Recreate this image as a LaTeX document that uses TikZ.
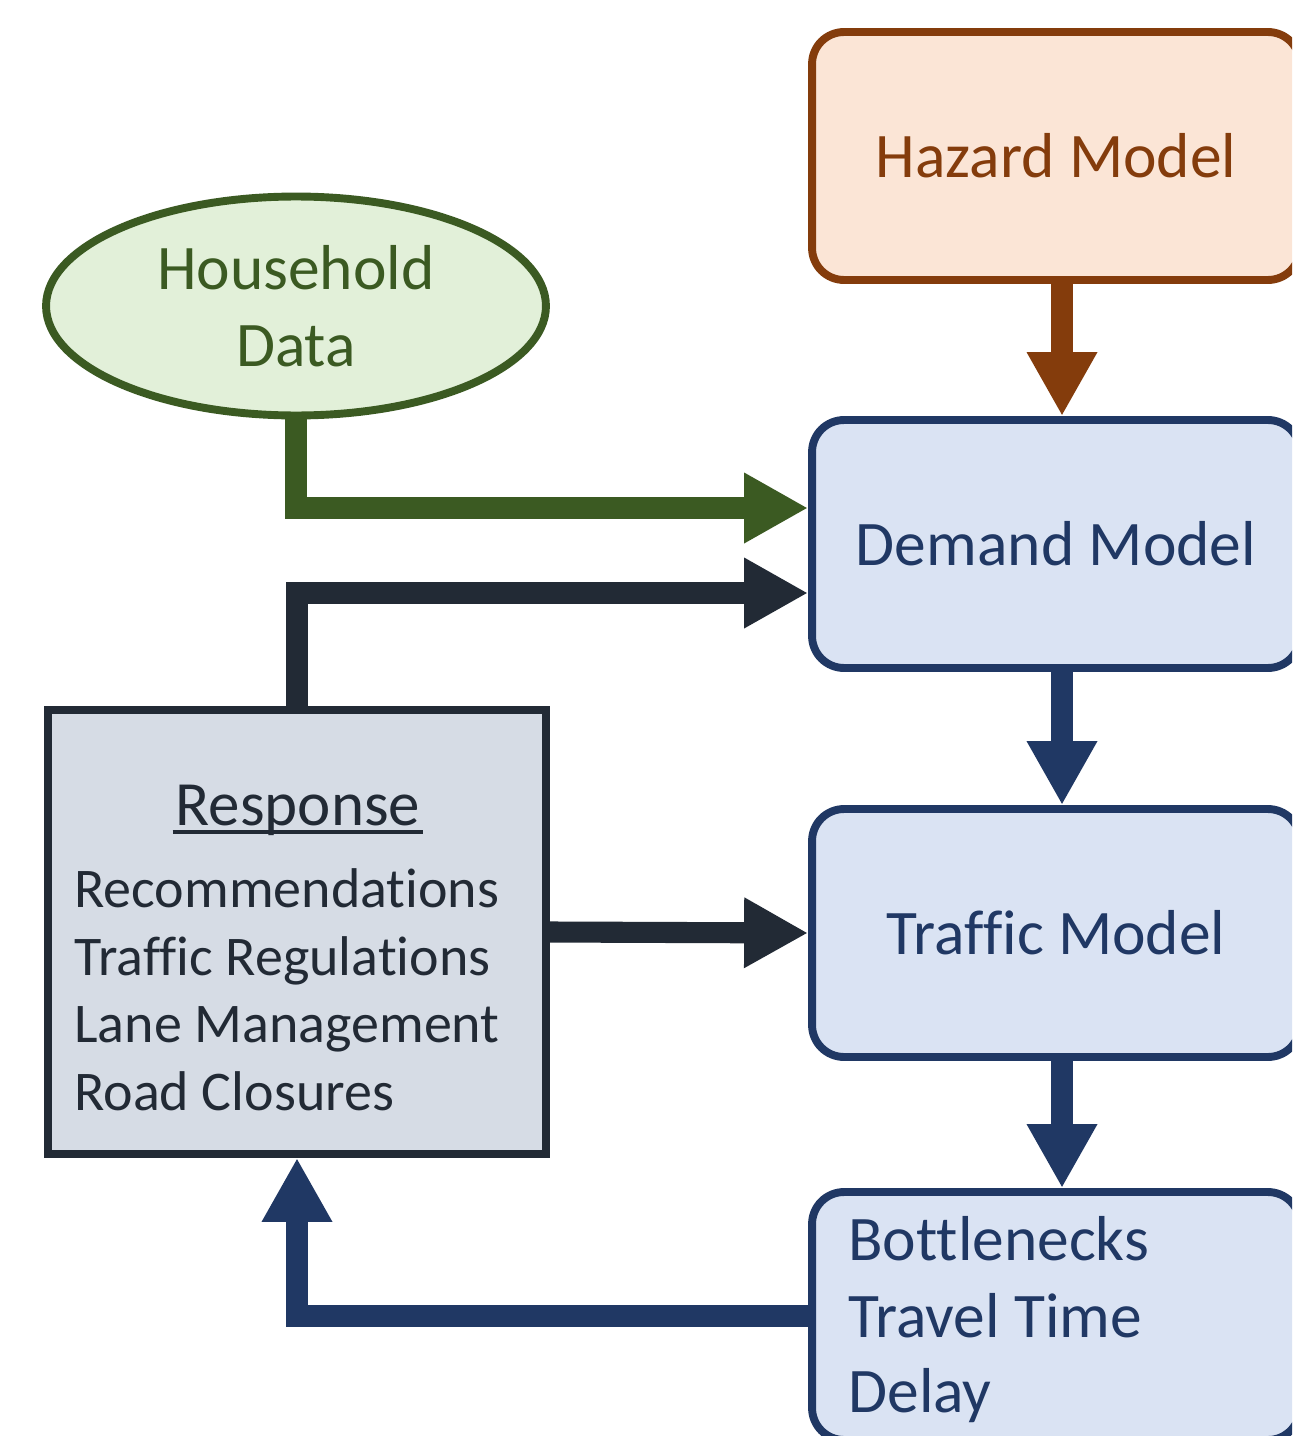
\documentclass[tikz,border=0pt]{standalone}
\usepackage{fontspec}
\setmainfont{Carlito}[Ligatures={NoCommon}]
\usetikzlibrary{arrows.meta,shapes.geometric,calc}
\definecolor{hazfill}{HTML}{FBE5D6}
\definecolor{hazline}{HTML}{843C0C}
\definecolor{blufill}{HTML}{DAE3F3}
\definecolor{bluline}{HTML}{203864}
\definecolor{grnfill}{HTML}{E2F0D9}
\definecolor{grnline}{HTML}{3B5A22}
\definecolor{resfill}{HTML}{D6DCE5}
\definecolor{resline}{HTML}{222A35}
\newcommand\myul[1]{\setbox0\hbox{#1}\rlap{\hspace*{-0.05em}\rule[-0.14em]{\dimexpr\wd0+0.1em\relax}{0.055em}}\box0}
\begin{document}
\begin{tikzpicture}[x=0.02cm,y=-0.02cm,
  modelbox/.style={draw, rounded corners=0.64cm, line width=4.5pt, minimum width=9.76cm, minimum height=4.96cm, inner sep=0pt},
  conn/.style={line width=12pt, -{Triangle[length=1.28cm,width=1.32cm]}},
  bigtext/.style={font=\fontsize{1.27cm}{1.54cm}\selectfont},
  listtext/.style={font=\fontsize{1.12cm}{1.36cm}\selectfont, text=resline, inner sep=0pt},
  ]
\clip (0,0) rectangle (1292,1436);
\fill[white] (0,0) rectangle (1292,1436);
% boxes
\node[modelbox, fill=hazfill, draw=hazline, text=hazline, bigtext] (hazard) at (1056,156) {Hazard Model};
\node[modelbox, fill=blufill, draw=bluline, text=bluline, bigtext] (demand) at (1056,544) {Demand Model};
\node[modelbox, fill=blufill, draw=bluline, text=bluline, bigtext] (traffic) at (1056,933) {Traffic Model};
\node[modelbox, fill=blufill, draw=bluline] (bottle) at (1056,1316) {};
\node[bigtext, text=bluline, anchor=base west, inner sep=0pt] (b1) at (848,1260) {Bottlenecks};
\node[bigtext, text=bluline, anchor=base west, inner sep=0pt] (b2) at (848,1337) {Travel Time};
\node[bigtext, text=bluline, anchor=base west, inner sep=0pt] (b3) at (848,1412) {Delay};
\node[ellipse, draw=grnline, fill=grnfill, line width=4.5pt, minimum width=10cm, minimum height=4.38cm, inner sep=0pt, text=grnline, align=center, bigtext] (house) at (296,306) {Household\\Data};
\node[rectangle, draw=resline, fill=resfill, line width=4.5pt, minimum width=9.96cm, minimum height=8.88cm, inner sep=0pt] (resp) at (297,932) {};
\node[font=\fontsize{1.26cm}{1.5cm}\selectfont, text=resline, anchor=base, inner sep=0pt] (rtitle) at (298,825) {\myul{Response}};
\node[listtext, anchor=base west] (r1) at (74,907) {Recommendations};
\node[listtext, anchor=base west] (r2) at (74,975) {Traffic Regulations};
\node[listtext, anchor=base west] (r3) at (74,1042) {Lane Management};
\node[listtext, anchor=base west] (r4) at (74,1110) {Road Closures};
% connectors
\draw[conn, draw=hazline] ($(hazard.south)+(6,0)$) -- ($(demand.north)+(6,0)$);
\draw[conn, draw=bluline] ($(demand.south)+(6,0)$) -- ($(traffic.north)+(6,0)$);
\draw[conn, draw=bluline] ($(traffic.south)+(6,0)$) -- ($(bottle.north)+(6,0)$);
\draw[conn, draw=grnline] (house.south) |- ($(demand.west)+(0,-36)$);
\draw[conn, draw=resline] (resp.north) |- ($(demand.west)+(0,49)$);
\draw[conn, draw=resline] (resp.east) -- (traffic.west);
\draw[conn, draw=bluline] (bottle.west) -| (resp.south);
\end{tikzpicture}
\end{document}
